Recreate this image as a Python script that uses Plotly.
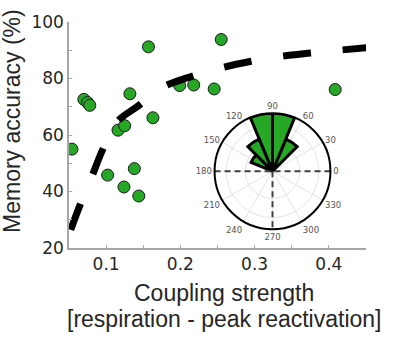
import plotly.graph_objects as go

# Scatter data (coupling strength vs memory accuracy)
coupling = [0.054, 0.070, 0.075, 0.078, 0.102, 0.116, 0.124, 0.125, 0.132,
            0.138, 0.144, 0.157, 0.163, 0.199, 0.218, 0.2455, 0.255, 0.4085]
accuracy = [55.0, 72.6, 71.5, 70.5, 45.8, 61.7, 41.6, 63.3, 74.6,
            48.1, 38.4, 91.2, 66.1, 77.5, 77.7, 76.3, 93.8, 76.1]

# Fitted curve
fit_x = [0.0523, 0.0645, 0.0811, 0.0946, 0.1139, 0.1432, 0.1775, 0.2135,
         0.2554, 0.2937, 0.335, 0.3757, 0.417, 0.451]
fit_y = [26.4, 35.0, 45.5, 54.4, 64.4, 70.3, 77.1, 80.6,
         83.8, 86.0, 87.8, 89.0, 90.1, 90.9]

# Polar histogram of phases (degrees)
phase_bin_centers = [56.25, 78.75, 101.25, 123.75, 146.25]
phase_counts = [3, 5, 5, 3, 2]
bin_width = 22.5
angle_ticks = [0, 30, 60, 90, 120, 150, 180, 210, 240, 270, 300, 330]

x_ticks = [0.1, 0.2, 0.3, 0.4]
y_ticks = [20, 40, 60, 80, 100]

GREEN = "#26a826"
AXIS_GRAY = "#a6a6a6"
TEXT = "#262626"

fig = go.Figure()

fig.add_trace(go.Scatter(
    x=coupling, y=accuracy, mode="markers",
    marker=dict(size=12, color=GREEN, line=dict(color="#1a1a1a", width=1)),
    showlegend=False, hoverinfo="skip"))

fig.add_trace(go.Scatter(
    x=fit_x, y=fit_y, mode="lines",
    line=dict(color="black", width=7, dash="28px,32px", shape="spline"),
    showlegend=False, hoverinfo="skip"))

# Polar inset
fig.add_trace(go.Scatterpolar(
    r=[5, 0, 5], theta=[180, 0, 0], mode="lines",
    line=dict(color="#404040", width=2, dash="6px,4px"),
    showlegend=False, hoverinfo="skip", subplot="polar"))
fig.add_trace(go.Scatterpolar(
    r=[0, 5], theta=[270, 270], mode="lines",
    line=dict(color="#404040", width=2, dash="6px,4px"),
    showlegend=False, hoverinfo="skip", subplot="polar"))
fig.add_trace(go.Barpolar(
    r=phase_counts, theta=phase_bin_centers, width=[bin_width] * len(phase_counts),
    marker=dict(color=GREEN, line=dict(color="black", width=3)),
    showlegend=False, hoverinfo="skip", subplot="polar"))

W, H = 410, 351
ml, mr, mt, mb = 69, 44, 14, 103
pw, ph = W - ml - mr, H - mt - mb

cx, cy, rad = 272.5, 168.5, 60
dom_x = [(cx - rad - ml) / pw, (cx + rad - ml) / pw]
dom_y = [(H - mb - (cy + rad)) / ph, (H - mb - (cy - rad)) / ph]

fig.update_layout(
    width=W, height=H,
    margin=dict(l=ml, r=mr, t=mt, b=mb, pad=0),
    paper_bgcolor="white", plot_bgcolor="white",
    font=dict(family="DejaVu Sans", color=TEXT),
    xaxis=dict(range=[0.05, 0.45], tickvals=x_ticks, ticktext=[f"{v:.1f}" for v in x_ticks],
               showline=True, linecolor=AXIS_GRAY, linewidth=1.5,
               ticks="inside", ticklen=3, tickcolor=AXIS_GRAY, tickwidth=1,
               minor=dict(tickvals=[0.15, 0.25, 0.35, 0.45], ticks="inside", ticklen=3,
                          tickcolor=AXIS_GRAY),
               showgrid=False, zeroline=False,
               tickfont=dict(family="DejaVu Sans", size=17, color=TEXT)),
    yaxis=dict(range=[20, 100], tickvals=y_ticks,
               showline=True, linecolor=AXIS_GRAY, linewidth=1.5,
               ticks="inside", ticklen=3, tickcolor=AXIS_GRAY, tickwidth=1,
               minor=dict(tickvals=[30, 50, 70, 90], ticks="inside", ticklen=3,
                          tickcolor=AXIS_GRAY),
               showgrid=False, zeroline=False,
               tickfont=dict(family="DejaVu Sans", size=17, color=TEXT)),
    polar=dict(
        domain=dict(x=dom_x, y=dom_y),
        bgcolor="white",
        radialaxis=dict(range=[0, 5], showticklabels=False, ticks="", showline=False,
                        gridcolor="#e4e4e4", tickvals=[2.35, 4.0]),
        angularaxis=dict(direction="counterclockwise", rotation=0,
                         tickvals=angle_ticks, ticktext=[str(a) for a in angle_ticks],
                         showline=True, linecolor="black", linewidth=2,
                         gridcolor="#e4e4e4", ticks="",
                         tickfont=dict(family="DejaVu Sans", size=8.5, color="#555555")),
    ),
    annotations=[
        dict(text="Memory accuracy (%)", textangle=-90, xref="paper", yref="paper",
             x=(12.5 - ml) / pw, y=(H - mb - 117) / ph, xanchor="center", yanchor="middle",
             showarrow=False, font=dict(family="Liberation Sans", size=23, color=TEXT)),
        dict(text="Coupling strength", xref="paper", yref="paper",
             x=(224 - ml) / pw, y=(H - mb - 295) / ph, xanchor="center", yanchor="middle",
             showarrow=False, font=dict(family="Liberation Sans", size=23, color=TEXT)),
        dict(text="[respiration - peak reactivation]", xref="paper", yref="paper",
             x=(224 - ml) / pw, y=(H - mb - 322) / ph, xanchor="center", yanchor="middle",
             showarrow=False, font=dict(family="Liberation Sans", size=23, color=TEXT)),
    ],
)

fig.write_html("out.html")
